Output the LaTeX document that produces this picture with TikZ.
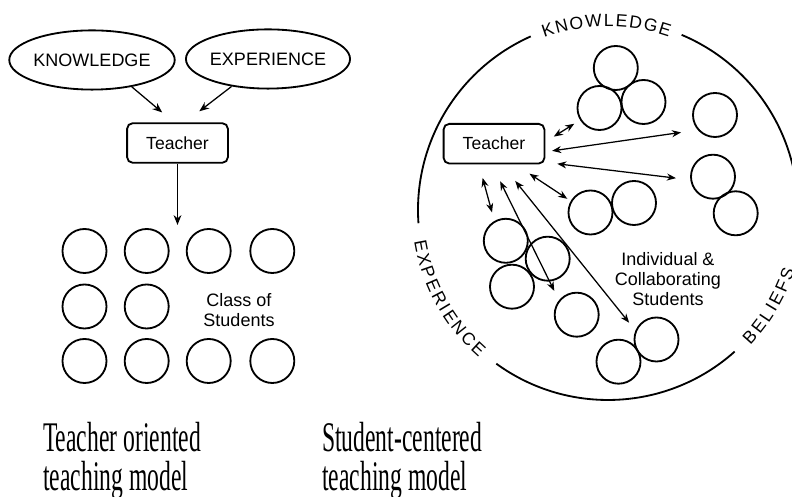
\documentclass[tikz,border=0pt]{standalone}
\usepackage{fontspec}
\setmainfont{Liberation Sans}
\newfontfamily\capfont{Liberation Serif}
\newfontfamily\arcfont{Liberation Sans}
\usetikzlibrary{shapes.geometric, arrows.meta, decorations.text}

\newcommand\arcset{\arcfont\fontsize{12.5}{13}\selectfont\fontdimen2\font=1.5pt\relax}

\tikzset{
  idea/.style={ellipse, draw, line width=1.3pt, minimum width=4cm, minimum height=1.48cm,
    inner sep=0pt, font=\fontsize{12.8}{15}\selectfont},
  teachbox/.style={draw, rounded corners=4pt, line width=1.3pt, minimum width=2.52cm,
    minimum height=0.99cm, inner sep=0pt, font=\fontsize{12.5}{15}\selectfont},
  stud/.style={circle, draw, line width=1.3pt, minimum size=1.1cm, inner sep=0pt},
  feed/.style={-{Stealth[length=7pt,width=5.5pt]}, line width=0.9pt},
  talk/.style={{Stealth[length=6.5pt,width=5pt]}-{Stealth[length=6.5pt,width=5pt]}, line width=0.9pt},
  lbl/.style={align=center, font=\fontsize{12.8}{14}\selectfont},
  capline/.style={align=left, inner sep=0pt, anchor=north west, xscale=0.56,
    font=\capfont\fontsize{30}{27.7}\selectfont},
}

\begin{document}
\begin{tikzpicture}[x=0.025cm, y=0.025cm]
    \useasboundingbox (0,0) rectangle (792,497);

    % teacher oriented
    \node[idea] (know) at (92,437) {KNOWLEDGE};
    \node[idea] (exp) at (268,438) {EXPERIENCE};
    \node[teachbox] (teachL) at (177.5,354) {Teacher};
    \coordinate (classtop) at (177.5,272);
    \draw[feed, shorten >=0.38cm] (know.-34) -- (teachL.100);
    \draw[feed, shorten >=0.45cm] (exp.-143) -- (teachL.70);
    \draw[feed] (teachL.south) -- (classtop);
    \foreach \x [count=\i] in {84.5,146.7,208.7,272.3} {
      \node[stud] (s1\i) at (\x,246) {};
      \node[stud] (s3\i) at (\x,136) {};
    }
    \node[stud] (s21) at (84.5,190.5) {};
    \node[stud] (s22) at (146.7,190.5) {};
    \node[lbl] (classlbl) at (239,187) {Class of\\Students};

    % student centered
    \coordinate (hub) at (608,287);
    \draw[line width=1.3pt, shift={(hub)}] (114:190) arc[start angle=114, end angle=184, radius=190];
    \draw[line width=1.3pt, shift={(hub)}] (234:190) arc[start angle=234, end angle=311.8, radius=190];
    \draw[line width=1.3pt, shift={(hub)}] (-13.3:190) arc[start angle=-13.3, end angle=67.2, radius=190];
    \path[shift={(hub)}, decorate, decoration={text along path, text align=center, raise=-4.5pt,
      text={|\arcset|K N O W L E D G E}}]
      (114:190) arc[start angle=114, end angle=67, radius=190];
    \path[shift={(hub)}, decorate, decoration={text along path, text align=center, raise=-4.5pt,
      text={|\arcset|E X P E R I E N C E}}]
      (184:190) arc[start angle=184, end angle=234, radius=190];
    \path[shift={(hub)}, decorate, decoration={text along path, text align=center, raise=-4.5pt,
      text={|\arcset|B E L I E F S}}]
      (-48.2:190) arc[start angle=-48.2, end angle=-13.3, radius=190];

    \node[teachbox] (teachR) at (494,353.3) {Teacher};
    \node[stud] (grpA1) at (615.8,429) {};
    \node[stud] (grpA2) at (599.5,389) {};
    \node[stud] (grpA3) at (643.5,395) {};
    \node[stud] (solo1) at (715,382) {};
    \node[stud] (pairB1) at (713,320.3) {};
    \node[stud] (pairB2) at (735.7,283.7) {};
    \node[stud] (pairC1) at (590.5,284.5) {};
    \node[stud] (pairC2) at (634,294) {};
    \node[stud] (grpD1) at (505.8,256.2) {};
    \node[stud] (grpD2) at (547.7,238.3) {};
    \node[stud] (grpD3) at (512,210.3) {};
    \node[stud] (solo2) at (576.7,182.3) {};
    \node[stud] (pairE1) at (618.5,135.3) {};
    \node[stud] (pairE2) at (656.5,157.5) {};
    \node[lbl] (grouplbl) at (668,218) {Individual \&\\Collaborating\\Students};

    \draw[talk, shorten <=0.25cm, shorten >=0.17cm] (teachR.2) -- (grpA2.212);
    \draw[talk, shorten <=0.17cm, shorten >=0.42cm] (teachR.-9) -- (solo1.221);
    \draw[talk, shorten <=0.30cm, shorten >=0.36cm] (teachR.-20) -- (pairB1.188);
    \draw[talk, shorten <=0.42cm, shorten >=0.10cm] (teachR.-44) -- (pairC1.150);
    \draw[talk, shorten <=0.35cm, shorten >=0.22cm] (teachR.234) -- (grpD1.120);
    \draw[talk, shorten <=0.47cm, shorten >=0.26cm] (teachR.264) -- (solo2.141);
    \draw[talk, shorten <=0.53cm, shorten >=0.25cm] (teachR.-69) -- (pairE2.157);

    % captions
    \node[capline] (capL) at (43,75) {Teacher oriented\\teaching model};
    \node[capline] (capR) at (322,75) {Student-centered\\teaching model};
\end{tikzpicture}
\end{document}
